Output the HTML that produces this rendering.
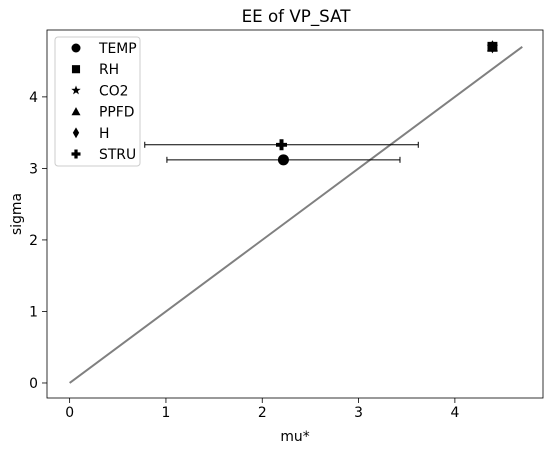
<!DOCTYPE html>
<html><head><meta charset="utf-8"><style>
body{margin:0;background:#fff;font-family:"Liberation Sans","DejaVu Sans",sans-serif;}
svg text{font-family:"DejaVu Sans","Liberation Sans",sans-serif;}
</style></head><body>
<svg id="chart" width="554" height="453" xmlns="http://www.w3.org/2000/svg"></svg>
<script>
const names = ["TEMP","RH","CO2","PPFD","H","STRU"];
const muStar = [2.22, 4.39, 4.39, 4.39, 4.39, 2.20];
const sigma = [3.12, 4.70, 4.70, 4.70, 4.70, 3.33];
const muConf = [1.21, 0, 0, 0, 0, 1.42];
const xTicks = [0,1,2,3,4];
const yTicks = [0,1,2,3,4];
const lineMax = 4.70;

const L=47,R=543,T=30,B=398;
const x0=-0.235,x1=4.915,y0=-0.21,y1=4.935;
const sx=v=>L+(v-x0)/(x1-x0)*(R-L);
const sy=v=>B-(v-y0)/(y1-y0)*(B-T);
const svg=document.getElementById('chart');
const NS="http://www.w3.org/2000/svg";
function mk(tag,attrs,parent){const e=document.createElementNS(NS,tag);for(const k in attrs)e.setAttribute(k,attrs[k]);(parent||svg).appendChild(e);return e;}

let t=mk('text',{x:296,y:22,'text-anchor':'middle','font-size':16.7});t.textContent="EE of VP_SAT";



xTicks.forEach(v=>{const g=mk('g',{});


mk('line',{x1:sx(v),x2:sx(v),y1:B,y2:B+5,stroke:'#000','stroke-width':0.8},g);
const tx=mk('text',{x:sx(v),y:B+19,'text-anchor':'middle','font-size':13.9},g);tx.textContent=v;});
yTicks.forEach(v=>{const g=mk('g',{});


mk('line',{x1:L-5,x2:L,y1:sy(v),y2:sy(v),stroke:'#000','stroke-width':0.8},g);
const tx=mk('text',{x:L-9,y:sy(v)+5,'text-anchor':'end','font-size':13.9},g);tx.textContent=v;});

t=mk('text',{x:295,y:441,'text-anchor':'middle','font-size':13.9});t.textContent="mu*";


t=mk('text',{x:21,y:214,'text-anchor':'middle','font-size':13.9,transform:'rotate(-90 21 214)'});t.textContent="sigma";



let ln=mk('line',{x1:sx(0),y1:sy(0),x2:sx(lineMax),y2:sy(lineMax),stroke:'#808080','stroke-width':2});



function marker(i,cx,cy,g,s){
  const k=names[i];
  if(k==="TEMP") mk('circle',{cx,cy,r:5*s},g);
  else if(k==="RH") mk('rect',{x:cx-4.5*s,y:cy-4.5*s,width:9*s,height:9*s},g);
  else if(k==="CO2"){let p=[];for(let j=0;j<10;j++){const r=j%2?2.2*s:5.5*s,a=-Math.PI/2+j*Math.PI/5;p.push((cx+r*Math.cos(a)).toFixed(1)+','+(cy+r*Math.sin(a)).toFixed(1));}mk('polygon',{points:p.join(' ')},g);}
  else if(k==="PPFD") mk('polygon',{points:`${cx},${cy-5*s} ${cx+5*s},${cy+4*s} ${cx-5*s},${cy+4*s}`},g);
  else if(k==="H") mk('polygon',{points:`${cx},${cy-6*s} ${cx+3.5*s},${cy} ${cx},${cy+6*s} ${cx-3.5*s},${cy}`},g);
  else mk('path',{d:`M${cx-1.8*s},${cy-5*s}h${3.6*s}v${3.2*s}h${3.2*s}v${3.6*s}h${-3.2*s}v${3.2*s}h${-3.6*s}v${-3.2*s}h${-3.2*s}v${-3.6*s}h${3.2*s}z`},g);
}
names.forEach((n,i)=>{
  const g=mk('g',{fill:'#000'});
  
  
  if(muConf[i]>0){const a=sx(muStar[i]-muConf[i]),b=sx(muStar[i]+muConf[i]),y=sy(sigma[i]);
    mk('line',{x1:a,x2:b,y1:y,y2:y,stroke:'#000','stroke-width':1},g);
    mk('line',{x1:a,x2:a,y1:y-3,y2:y+3,stroke:'#000','stroke-width':1},g);
    mk('line',{x1:b,x2:b,y1:y-3,y2:y+3,stroke:'#000','stroke-width':1},g);}
  marker(i,sx(muStar[i]),sy(sigma[i]),g,1.1);
});

let fr=mk('rect',{x:L,y:T,width:R-L,height:B-T,fill:'none',stroke:'#000','stroke-width':0.8});



const lg=mk('g',{});


mk('rect',{x:55,y:37,width:85,height:129,rx:3,fill:'#fff',stroke:'#ccc','stroke-width':1},lg);
names.forEach((n,i)=>{const y=48+i*21.2;const g=mk('g',{fill:'#000'},lg);
  
  
  marker(i,76,y,g,0.9);
  const tx=mk('text',{x:99,y:y+5,'font-size':13.9},g);tx.textContent=n;});
</script>
</body></html>
